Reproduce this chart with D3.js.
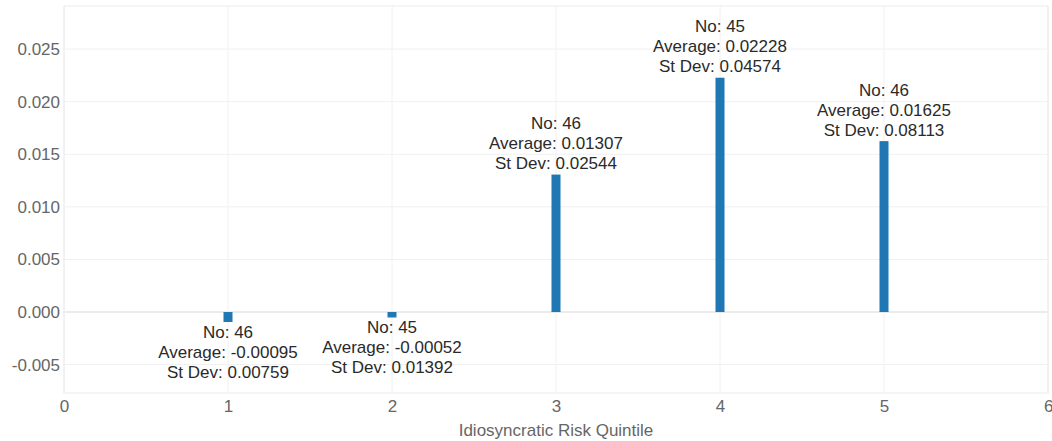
<!DOCTYPE html>
<html>
<head>
<meta charset="utf-8">
<script src="https://cdn.jsdelivr.net/npm/d3@7"></script>
<style>
  body { margin: 0; background: #fff; }
  text { font-family: "Liberation Sans", Arial, sans-serif; }
</style>
</head>
<body>
<div id="chart"></div>
<script>
// data
const quintiles = [1, 2, 3, 4, 5];
const counts = [46, 45, 46, 45, 46];
const averages = [-0.00095, -0.00052, 0.01307, 0.02228, 0.01625];
const stdevs = [0.00759, 0.01392, 0.02544, 0.04574, 0.08113];
const xTicks = [0, 1, 2, 3, 4, 5, 6];
const yTicks = [-0.005, 0, 0.005, 0.01, 0.015, 0.02, 0.025];

const width = 1052, height = 441;
const margin = { top: 6, right: 4, bottom: 48, left: 64 };
const innerW = width - margin.left - margin.right;
const innerH = height - margin.top - margin.bottom;
const fontSize = '17px';

const svg = d3.select('#chart').append('svg')
    .attr('width', width)
    .attr('height', height);

const g = svg.append('g')
    .attr('transform', 'translate(' + margin.left + ',' + margin.top + ')');

const x = d3.scaleLinear().domain([0, 6]).range([0, innerW]);
const y = d3.scaleLinear().domain([-0.0077, 0.0291]).range([innerH, 0]);

// grid
g.append('g').selectAll('line')
    .data(yTicks)
    .enter().append('line')
    .attr('x1', 0).attr('x2', innerW)
    .attr('y1', d => y(d)).attr('y2', d => y(d))
    .attr('stroke', d => d === 0 ? '#e6e6e6' : '#f0f0f0')
    .attr('stroke-width', d => d === 0 ? 1.5 : 1);

g.append('g').selectAll('line')
    .data(xTicks)
    .enter().append('line')
    .attr('x1', d => x(d)).attr('x2', d => x(d))
    .attr('y1', 0).attr('y2', innerH)
    .attr('stroke', '#f0f0f0');

g.append('rect')
    .attr('width', innerW).attr('height', innerH)
    .attr('fill', 'none')
    .attr('stroke', '#ebebeb');

// axes
const fmt3 = d3.format('.3f');
const xAxis = d3.axisBottom(x).tickValues(xTicks).tickSize(0).tickPadding(7)
    .tickFormat(d3.format('d'));
const yAxis = d3.axisLeft(y).tickValues(yTicks).tickSize(0).tickPadding(4)
    .tickFormat(d => fmt3(d).replace('\u2212', '-'));

const gx = g.append('g')
    .attr('transform', 'translate(0,' + innerH + ')')
    .call(xAxis);
const gy = g.append('g').call(yAxis);

[gx, gy].forEach(a => {
    a.select('.domain').remove();
    a.selectAll('text')
        .attr('fill', '#666')
        .style('font-size', fontSize)
        .style('font-family', '"Liberation Sans", Arial, sans-serif');
});
// keep the last x tick inside the picture
gx.selectAll('.tick').filter(d => d === 6).select('text').attr('text-anchor', 'end').attr('dx', 5);

svg.append('text')
    .attr('x', margin.left + innerW / 2)
    .attr('y', height - 5)
    .attr('text-anchor', 'middle')
    .attr('fill', '#666')
    .style('font-size', fontSize)
    .text('Idiosyncratic Risk Quintile');

// bars
const barW = 9;
const rows = quintiles.map((q, i) => ({ q, n: counts[i], avg: averages[i], sd: stdevs[i] }));

g.selectAll('rect.bar')
    .data(rows)
    .enter().append('rect')
    .attr('class', 'bar')
    .attr('x', d => x(d.q) - barW / 2)
    .attr('width', barW)
    .attr('y', d => y(Math.max(0, d.avg)))
    .attr('height', d => Math.abs(y(d.avg) - y(0)))
    .attr('fill', '#1f77b4');

// labels
const lineH = 20;
const labels = g.selectAll('text.lbl')
    .data(rows)
    .enter().append('text')
    .attr('class', 'lbl')
    .attr('text-anchor', 'middle')
    .attr('fill', '#2a2a2a')
    .style('font-size', fontSize);

labels.each(function (d) {
    const t = d3.select(this);
    const lines = ['No: ' + d.n, 'Average: ' + d.avg.toFixed(5), 'St Dev: ' + d.sd.toFixed(5)];
    const y0 = d.avg >= 0 ? y(d.avg) - 5.5 - lineH * 2 : y(d.avg) + 16;
    lines.forEach((s, k) => {
        t.append('tspan')
            .attr('x', x(d.q))
            .attr('y', y0 + k * lineH)
            .text(s);
    });
});
</script>
</body>
</html>
